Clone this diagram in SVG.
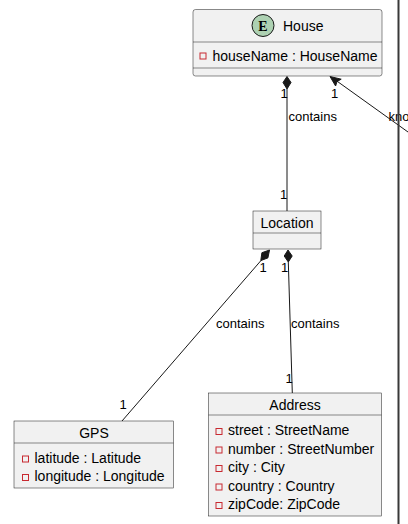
<svg xmlns="http://www.w3.org/2000/svg" width="408" height="524" viewBox="0 0 408 524">
<style>
.box{fill:#F1F1F1;stroke:#181818;stroke-width:0.5}
.t{font-family:"Liberation Sans",Arial,sans-serif;font-size:14px;fill:#000}
.l{font-family:"Liberation Sans",Arial,sans-serif;font-size:13px;fill:#000}
.ic{fill:none;stroke:#C82930;stroke-width:1}
.ln{stroke:#181818;stroke-width:1;fill:none}
.dm{fill:#181818;stroke:#181818;stroke-width:1}
</style>
<rect width="408" height="524" fill="#FFFFFF"/>
<g id="House">
<rect class="box" x="193" y="9.5" width="189" height="66.5" rx="2.5" ry="2.5"/>
<line class="box" x1="193" y1="42" x2="382" y2="42"/>
<line class="box" x1="193" y1="68" x2="382" y2="68"/>
<circle cx="263" cy="25.5" r="11" fill="#ADD1B2" stroke="#181818" stroke-width="1"/>
<text x="263" y="30.5" text-anchor="middle" style="font-family:'Liberation Serif',serif;font-size:14px;font-weight:bold">E</text>
<text class="t" x="283" y="30.5">House</text>
<rect class="ic" x="200" y="53" width="6" height="6"/>
<text class="t" x="212.5" y="61">houseName : HouseName</text>
</g>
<g id="Location">
<rect class="box" x="253" y="211" width="68" height="38"/>
<line class="box" x1="253" y1="233" x2="321" y2="233"/>
<text class="t" x="287" y="228" text-anchor="middle">Location</text>
</g>
<g id="GPS">
<rect class="box" x="14" y="421" width="159.5" height="67"/>
<line class="box" x1="14" y1="443" x2="173.5" y2="443"/>
<text class="t" x="94" y="437.5" text-anchor="middle">GPS</text>
<rect class="ic" x="22.5" y="456" width="6" height="6"/>
<text class="t" x="34.5" y="462.5">latitude : Latitude</text>
<rect class="ic" x="22.5" y="474.5" width="6" height="6"/>
<text class="t" x="34.5" y="481">longitude : Longitude</text>
</g>
<g id="Address">
<rect class="box" x="208.5" y="393" width="173" height="123"/>
<line class="box" x1="208.5" y1="415" x2="381.5" y2="415"/>
<text class="t" x="295" y="409.5" text-anchor="middle">Address</text>
<rect class="ic" x="216" y="428.5" width="6" height="6"/>
<text class="t" x="228" y="435">street : StreetName</text>
<rect class="ic" x="216" y="447" width="6" height="6"/>
<text class="t" x="228" y="453.5">number : StreetNumber</text>
<rect class="ic" x="216" y="465.5" width="6" height="6"/>
<text class="t" x="228" y="472">city : City</text>
<rect class="ic" x="216" y="484" width="6" height="6"/>
<text class="t" x="228" y="490.5">country : Country</text>
<rect class="ic" x="216" y="502.5" width="6" height="6"/>
<text class="t" x="228" y="509">zipCode: ZipCode</text>
</g>
<g id="connectors">
<line class="ln" x1="287" y1="89" x2="287" y2="211"/>
<polygon class="dm" points="287,76.5 291,82.5 287,89 283,82.5"/>
<text class="l" x="280.5" y="98">1</text>
<text class="l" x="288.5" y="121">contains</text>
<text class="l" x="280" y="199">1</text>
<line class="ln" x1="261" y1="260.5" x2="122" y2="421"/>
<polygon class="dm" points="269.5,250 267.9,257.9 260.8,260.6 261.9,252.7"/>
<text class="l" x="259.5" y="272">1</text>
<text class="l" x="216" y="327.5">contains</text>
<text class="l" x="119.5" y="408.5">1</text>
<line class="ln" x1="288.3" y1="262" x2="292.3" y2="393"/>
<polygon class="dm" points="288,250 292.2,256 288.3,262 284.2,256"/>
<text class="l" x="281" y="272">1</text>
<text class="l" x="291" y="327.5">contains</text>
<text class="l" x="285.5" y="383">1</text>
<line class="ln" x1="334" y1="79" x2="420" y2="140.6"/>
<polygon class="dm" points="330,76.5 335.6,86 337,81.5 341.2,79.2"/>
<text class="l" x="331" y="98">1</text>
<text class="l" x="388.5" y="121">knows</text>
<rect x="397.5" y="0" width="2" height="524" fill="#383838"/>
</g>
</svg>
